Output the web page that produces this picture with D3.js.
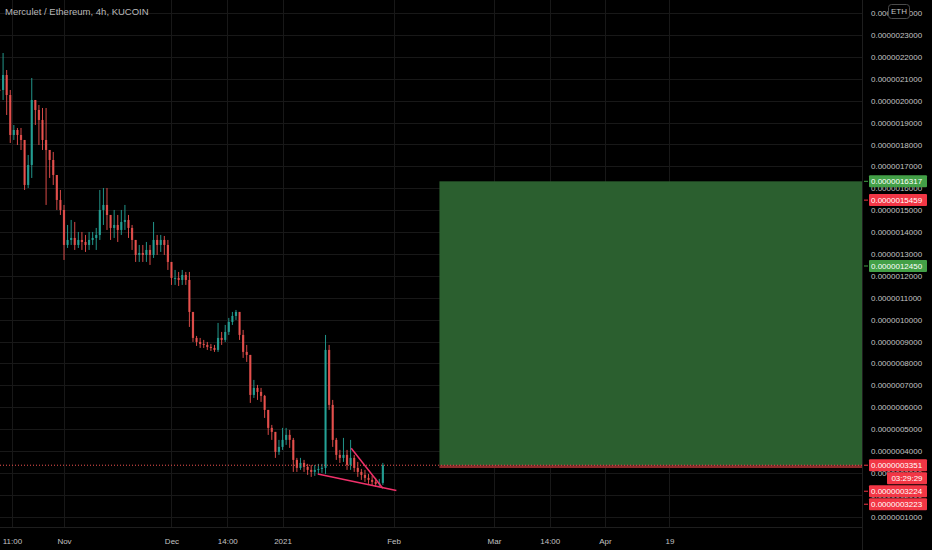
<!DOCTYPE html>
<html><head><meta charset="utf-8">
<script src="https://cdn.jsdelivr.net/npm/d3@7"></script>
<style>html,body{margin:0;padding:0;background:#000;overflow:hidden}svg{display:block}</style>
</head><body><svg id="c" width="932" height="550"></svg>
<script>
// ---------- data (prices in units of 1e-10 ETH) ----------
const chartTitle = "Merculet / Ethereum, 4h, KUCOIN";
const currency = "ETH";
const startDay = "2020-10-14T00:00";
const firstOpen = 20500;
const closes = [20489,21173,20260,18434,18662,18434,18206,16151,17064,20032,
19575,19119,18206,17749,17292,16607,15466,15009,13411,13640,
13731,13411,13640,13548,13411,13640,13731,13868,15009,15238,
14781,14188,14324,14096,14461,14553,14188,13640,12955,13046,
12955,13183,12955,13640,13411,13640,13411,12635,11905,11905,
11813,12041,11813,10352,9165,8982,8891,8845,8754,8708,
8617,9165,9074,9439,9895,10169,10352,9302,8526,8389,
6562,6882,6699,6517,5877,5056,4873,3960,4188,4508,
4736,4508,3594,3229,3457,3275,3138,3046,3138,3183,
3229,8617,6106,4508,3823,3686,3823,3366,3686,3229,
3046,2909,2773,2681,2590,2499,2544,3351];
const highs = [21265,22178,21402,20489,18890,18754,18754,17977,17521,21037,
20032,19804,19667,19667,17749,17658,15923,15923,15238,14324,
14553,14461,14005,14005,13868,14005,14005,14188,15923,16014,
16014,14644,15009,14781,15009,15238,14781,14324,13640,13411,
13411,13548,13411,14461,13868,13868,13822,13640,12498,12270,
12178,12270,12178,12178,10352,9256,9165,9074,8982,8891,
8845,9850,9439,9758,10078,10352,10443,10352,9530,8845,
8389,7247,7019,6882,6562,5877,5192,4873,4508,5056,
5056,4964,4599,3686,3686,3594,3412,3366,3366,3412,
3412,9302,8845,6334,4599,4051,4599,4051,4508,3823,
3503,3183,3138,2955,2864,2773,2727,3457];
const lows = [19575,20032,19347,18069,18206,17977,17749,15923,16014,16471,
18890,17977,17749,15238,16471,16151,15009,14781,12726,13274,
13411,13183,13274,13183,13092,13183,13411,13183,13640,14324,
14096,13640,13731,13548,13868,14096,13731,13183,12635,12635,
12635,12635,12498,12818,12955,13092,12955,12270,11585,11585,
11539,11585,11585,9667,8982,8800,8708,8708,8617,8571,
8526,8526,8845,8982,9302,9758,9987,9074,8252,8069,
6197,6425,6334,6243,5512,4736,4508,3686,3823,4051,
4279,4142,3046,3046,3138,3046,2909,2818,2864,2955,
3001,2955,5877,4188,3594,3457,3503,3138,3138,3046,
2818,2681,2590,2499,2407,2362,2362,2453];
const priceTicks = [1000,2000,3000,4000,5000,6000,7000,8000,9000,10000,11000,12000,
13000,14000,15000,16000,17000,18000,19000,20000,21000,22000,23000,24000];
const timeTicks = ["2020-10-17T11:00","2020-11-01T00:00","2020-12-01T00:00","2020-12-16T14:00",
"2021-01-01T00:00","2021-02-01T00:00","2021-03-01T00:00","2021-03-16T14:00","2021-04-01T00:00","2021-04-19T00:00"];
const timeLabels = ["11:00","Nov","Dec","14:00","2021","Feb","Mar","14:00","Apr","19"];
const trendLines = [
  [["2021-01-10T20:00",2955],["2021-02-01T18:30",2192]],
  [["2021-01-20T04:00",4129],["2021-01-28T23:30",2302]]
];
const positionStart = "2021-02-13T19:00";
const positionEnd = "2021-06-30T00:00";
const positionTarget = 16317, positionEntry = 3351, positionStop = 3224;
const lastPrice = 3351;
const countdown = "03:29:29";
const markerValues = [16317,15459,12450,3351,3224,3223];
const markerKinds = ["up","down","up","down","down","down"];

// ---------- layout ----------
const W = 932, H = 550, plotW = 862, plotH = 527;
const svg = d3.select("#c");
const pd = s => new Date(s);
const fmtPrice = v => (v * 1e-10).toFixed(10);

svg.append("rect").attr("width", W).attr("height", H).attr("fill", "#000");

const x = d3.scaleTime().domain([pd("2020-11-01T00:00"), pd("2021-04-01T00:00")]).range([64, 605]);
const y = d3.scaleLinear().domain([1000, 23000]).range([516.7, 35]);

const defs = svg.append("defs");
defs.append("clipPath").attr("id", "plot").append("rect").attr("width", plotW).attr("height", plotH);

// grid
const grid = svg.append("g").attr("stroke", "#181818").attr("stroke-width", 1);
grid.selectAll("line.h").data(priceTicks).join("line").attr("class", "h")
  .attr("x1", 0).attr("x2", plotW)
  .attr("y1", d => Math.round(y(d)) + 0.5).attr("y2", d => Math.round(y(d)) + 0.5);
grid.selectAll("line.v").data(timeTicks).join("line").attr("class", "v")
  .attr("y1", 0).attr("y2", plotH)
  .attr("x1", d => Math.round(x(pd(d))) + 0.5).attr("x2", d => Math.round(x(pd(d))) + 0.5);

const plot = svg.append("g").attr("clip-path", "url(#plot)");

// position box
plot.append("rect")
  .attr("x", x(pd(positionStart))).attr("width", x(pd(positionEnd)) - x(pd(positionStart)))
  .attr("y", y(positionTarget)).attr("height", y(positionEntry) - y(positionTarget))
  .attr("fill", "#2b5f2f");
plot.append("rect")
  .attr("x", x(pd(positionStart))).attr("width", x(pd(positionEnd)) - x(pd(positionStart)))
  .attr("y", y(positionEntry)).attr("height", y(positionStop) - y(positionEntry))
  .attr("fill", "#8a2c2c");

// candles
const start = pd(startDay);
const candles = closes.map((c, i) => {
  const o = i ? closes[i - 1] : firstOpen;
  return { date: d3.timeDay.offset(start, i), o, c,
    h: Math.max(highs[i], o, c), l: Math.min(lows[i], o, c) };
});
const up = "#26a69a", dn = "#ef5350";
const cg = plot.append("g");
cg.selectAll("line").data(candles).join("line")
  .attr("x1", d => x(d.date)).attr("x2", d => x(d.date))
  .attr("y1", d => y(d.h)).attr("y2", d => y(d.l))
  .attr("stroke", d => d.c >= d.o ? up : dn).attr("stroke-width", 1).attr("opacity", 0.9);
cg.selectAll("rect").data(candles).join("rect")
  .attr("x", d => x(d.date) - 1.1).attr("width", 2.2)
  .attr("y", d => y(Math.max(d.o, d.c)))
  .attr("height", d => Math.max(1, Math.abs(y(d.o) - y(d.c))))
  .attr("fill", d => d.c >= d.o ? up : dn).attr("opacity", 0.85);

// current price dotted line
plot.append("line").attr("x1", 0).attr("x2", plotW)
  .attr("y1", y(lastPrice)).attr("y2", y(lastPrice))
  .attr("stroke", "#ef5350").attr("stroke-width", 1).attr("stroke-dasharray", "1,2");

// trend lines
const line = d3.line().x(d => x(pd(d[0]))).y(d => y(d[1]));
plot.selectAll("path.tl").data(trendLines).join("path").attr("class", "tl")
  .attr("d", line).attr("fill", "none").attr("stroke", "#f0306a").attr("stroke-width", 1.5);

// axis borders
svg.append("line").attr("x1", plotW + 0.5).attr("x2", plotW + 0.5).attr("y1", 0).attr("y2", H).attr("stroke", "#1e1e1e");
svg.append("line").attr("x1", 0).attr("x2", plotW).attr("y1", plotH + 0.5).attr("y2", plotH + 0.5).attr("stroke", "#1e1e1e");

const font = "'Liberation Sans', Arial, sans-serif";
// price axis
const ya = svg.append("g").attr("transform", `translate(${plotW},0)`)
  .call(d3.axisRight(y).tickValues(priceTicks).tickFormat(fmtPrice).tickSize(0).tickPadding(9));
ya.select(".domain").remove();
ya.selectAll("text").attr("fill", "#c3c3c3").attr("font-family", font).attr("font-size", 8);

// time axis
const xa = svg.append("g").attr("transform", `translate(0,${plotH})`)
  .call(d3.axisBottom(x).tickValues(timeTicks.map(pd)).tickFormat((d, i) => timeLabels[i]).tickSize(0).tickPadding(11));
xa.select(".domain").remove();
xa.selectAll("text").attr("fill", "#c3c3c3").attr("font-family", font).attr("font-size", 8);

// markers on price axis
const bh = 12;
let prevBottom = -Infinity;
const mg = svg.append("g");
const colors = { up: "#43a047", down: "#f23645" };
markerValues.forEach((v, i) => {
  let cy = Math.max(y(v), prevBottom + 1 + bh / 2);
  const col = colors[markerKinds[i]];
  mg.append("line").attr("x1", plotW + 2).attr("x2", plotW + 6).attr("y1", cy).attr("y2", cy)
    .attr("stroke", col).attr("stroke-width", 1);
  mg.append("rect").attr("x", 869).attr("y", cy - bh / 2).attr("width", 58).attr("height", bh)
    .attr("fill", col).attr("rx", 1);
  mg.append("text").attr("x", 871).attr("y", cy).attr("dy", "0.34em")
    .attr("fill", "#fff").attr("font-family", font).attr("font-size", 8).text(fmtPrice(v));
  prevBottom = cy + bh / 2;
  if (v === lastPrice && i === 3) {
    const ty = prevBottom + 1;
    mg.append("rect").attr("x", 887).attr("y", ty).attr("width", 40).attr("height", bh)
      .attr("fill", col).attr("rx", 1);
    mg.append("text").attr("x", 907).attr("y", ty + bh / 2).attr("dy", "0.34em").attr("text-anchor", "middle")
      .attr("fill", "#fff").attr("font-family", font).attr("font-size", 8).text(countdown);
    prevBottom = ty + bh;
  }
});

// currency button
svg.append("rect").attr("x", 888.5).attr("y", 4.5).attr("width", 21).attr("height", 14).attr("rx", 3)
  .attr("fill", "#000").attr("stroke", "#4a4a4a");
svg.append("text").attr("x", 899).attr("y", 11.5).attr("dy", "0.34em").attr("text-anchor", "middle")
  .attr("fill", "#c3c3c3").attr("font-family", font).attr("font-size", 8).text(currency);

// title
svg.append("text").attr("x", 5).attr("y", 15).attr("fill", "#b8b8b8")
  .attr("font-family", font).attr("font-size", 9.5).text(chartTitle);
</script></body></html>
